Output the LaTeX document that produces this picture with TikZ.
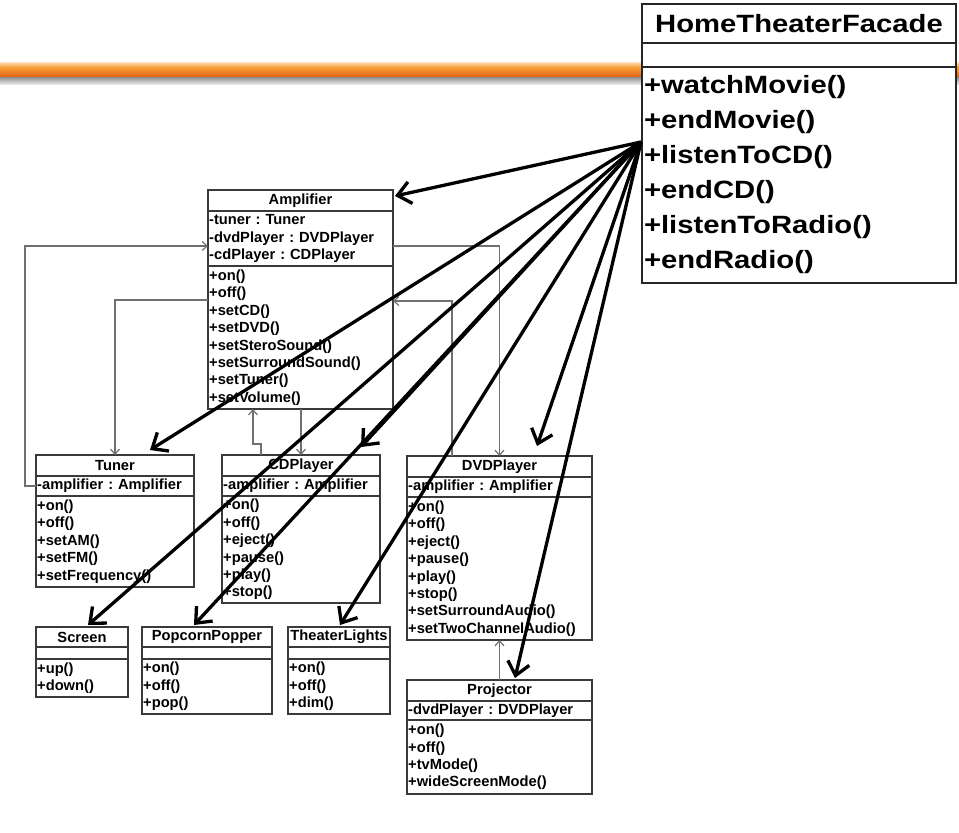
\documentclass[tikz,border=0pt]{standalone}
\usepackage{fontspec}
\setmainfont{Liberation Sans}
\newfontfamily\widefont{Liberation Sans}[FakeStretch=1.17]
\usetikzlibrary{arrows.meta,calc}
\frenchspacing
\definecolor{boxgray}{HTML}{3A3A3A}
\definecolor{relgray}{HTML}{707070}
\definecolor{orangeA}{HTML}{F7A035}
\definecolor{orangeB}{HTML}{E0681A}
\definecolor{orangeL}{HTML}{FCE0C0}
\definecolor{grayA}{HTML}{8C8C8C}
\definecolor{grayB}{HTML}{E6E6E6}
\tikzset{
  box/.style={draw=boxgray, line width=1.3pt, fill=white, inner sep=0pt, outer sep=0pt},
  ctitle/.style={box, anchor=north west, font=\fontsize{14.7}{17.4}\selectfont\bfseries},
  ccomp/.style={box, anchor=north west, align=left, inner xsep=1.2pt, inner ysep=0pt,
    font=\fontsize{14.7}{17.4}\selectfont\bfseries},
  fbox/.style={draw=black!85, line width=2.2pt, fill=white, inner sep=0pt, outer sep=0pt, anchor=north west},
  ffont/.style={font=\widefont\bfseries\fontsize{25}{35}\selectfont},
  rel/.style={draw=relgray, line width=1.2pt, -{Straight Barb[length=5pt,width=9pt]}},
  fa/.style={draw=black, line width=3.3pt, -{Straight Barb[length=13pt,width=22pt]}},
}
\def\titleh{21}
% name, x, y, width, title, attr height, attrs, methods height, methods
\newcommand\umlclass[9]{%
  \pgfmathsetmacro\tw{#4-2.4}%
  \node[ctitle, minimum width=#4, minimum height=\titleh] (#1) at (#2,#3) {#5};
  \node[ccomp, text width=\tw pt, minimum height=#6] (#1A) at (#1.south west) {#7};
  \node[ccomp, text width=\tw pt, minimum height=#8] (#1M) at (#1A.south west) {#9};
}
\begin{document}
\begin{tikzpicture}[x=1pt,y=-1pt]
\useasboundingbox (0,0) rectangle (959,833);
\fill[white] (0,0) rectangle (959,833);
% header bar
\shade[top color=orangeL, bottom color=orangeA] (0,62) rectangle (959,67);
\shade[top color=orangeA, bottom color=orangeB] (0,67) rectangle (959,76);
\shade[top color=grayA, bottom color=grayB] (0,77) rectangle (959,84);

% facade
\node[fbox, ffont, minimum width=314, minimum height=39] (fac) at (642,4) {HomeTheaterFacade};
\node[fbox, minimum width=314, minimum height=24] (facA) at (fac.south west) {};
\node[fbox, ffont, align=left, text width=310pt, inner xsep=2pt, minimum height=216] (facM) at (facA.south west)
  {+watchMovie()\\+endMovie()\\+listenToCD()\\+endCD()\\+listenToRadio()\\+endRadio()};

% classes
\umlclass{amp}{208}{190}{185}{Amplifier}{55}{-tuner : Tuner\\-dvdPlayer : DVDPlayer\\-cdPlayer : CDPlayer}{143}%
  {+on()\\+off()\\+setCD()\\+setDVD()\\+setSteroSound()\\+setSurroundSound()\\+setTuner()\\+setVolume()}
\umlclass{tuner}{36}{455}{158}{Tuner}{20}{-amplifier : Amplifier}{91}%
  {+on()\\+off()\\+setAM()\\+setFM()\\+setFrequency()}
\umlclass{cd}{222}{455}{158}{CDPlayer}{20}{-amplifier : Amplifier}{107}%
  {+on()\\+off()\\+eject()\\+pause()\\+play()\\+stop()}
\umlclass{dvd}{407}{456}{185}{DVDPlayer}{20}{-amplifier : Amplifier}{143}%
  {+on()\\+off()\\+eject()\\+pause()\\+play()\\+stop()\\+setSurroundAudio()\\+setTwoChannelAudio()}
\umlclass{proj}{407}{680}{185}{Projector}{19}{-dvdPlayer : DVDPlayer}{74}%
  {+on()\\+off()\\+tvMode()\\+wideScreenMode()}
\def\titleh{20}
\umlclass{screen}{36}{627}{92}{Screen}{12}{}{38}{+up()\\+down()}
\umlclass{pop}{142}{627}{130}{PopcornPopper}{12}{}{55}{+on()\\+off()\\+pop()}
\umlclass{lights}{288}{627}{102}{TheaterLights}{12}{}{55}{+on()\\+off()\\+dim()}

% associations between components
\draw[rel] (tunerA.west) -- ++(-11,0) |- (ampA.west |- 0,246);
\draw[rel] (ampM.west |- 0,300) -| (tuner.north);
\draw[rel] (cd.north -| 261,0) -- ++(0,-11) -| (ampM.south -| 253,0);
\draw[rel] (ampM.south -| cd.north) -- (cd.north);
\draw[rel] (ampA.east |- 0,246) -| (dvd.north);
\draw[rel] (dvd.north -| 452,0) |- (ampM.east |- 0,301);
\draw[rel] (proj.north) -- (dvdM.south);

% facade arrows
\coordinate (src) at ($(facM.north west)+(-1,75)$);
\coordinate (tAmp) at (395,196);
\coordinate (tTuner) at (150,450);
\coordinate (tCD) at (361,447);
\coordinate (tDVD) at (537,446);
\coordinate (tScreen) at (88,625);
\coordinate (tPop) at (194,625);
\coordinate (tLights) at (340,625);
\coordinate (tProj) at (515,678);
\foreach \t in {tAmp,tTuner,tCD,tDVD,tScreen,tPop,tLights,tProj}
  \draw[fa] (src) -- (\t);
\end{tikzpicture}
\end{document}
